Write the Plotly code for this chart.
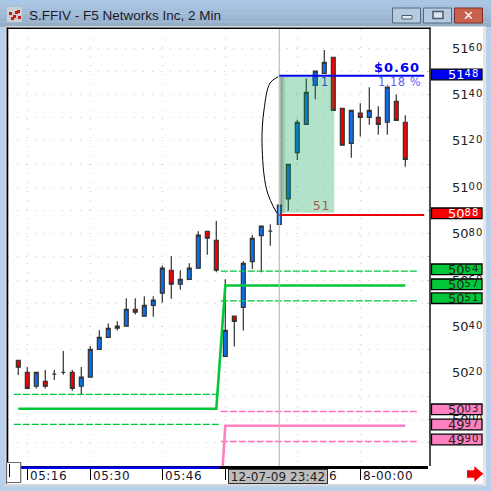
import plotly.graph_objects as go

# ---------- data ----------
bar_index = list(range(44))
opens = [5025.4,5020.2,5014.2,5016.3,5019.4,5020.2,5020.2,5014.2,5018.1,5030.1,5035.3,5039.2,5040.1,5047.4,5044.4,5049.1,
         5054.3,5064.2,5058.2,5060.3,5065.1,5081.0,5077.1,5027.1,5044.4,5048.2,5067.9,5079.1,5081.1,5084.0,5095.0,5114.9,
         5127.1,5143.9,5149.1,5156.0,5134.0,5118.9,5131.9,5130.1,5130.1,5128.0,5137.0,5128.0]
closes = [5022.4,5013.3,5020.2,5014.2,5019.4,5020.2,5013.3,5018.1,5030.1,5035.3,5039.2,5040.1,5047.4,5046.1,5049.1,5051.3,
          5065.1,5058.2,5060.3,5065.1,5079.3,5078.0,5064.2,5038.3,5042.2,5067.2,5078.0,5083.2,5081.1,5092.3,5109.9,5128.0,
          5140.9,5150.0,5153.8,5133.1,5118.1,5133.1,5130.1,5133.1,5127.1,5143.1,5128.8,5112.0]
highs = [5025.4,5022.5,5020.2,5021.2,5021.2,5029.4,5021.2,5022.5,5031.6,5038.3,5041.3,5042.2,5052.1,5052.1,5053.0,5053.0,
         5066.3,5070.2,5064.2,5067.2,5081.0,5081.0,5085.4,5060.3,5044.4,5068.1,5079.4,5083.2,5084.0,5092.3,5109.9,5129.0,
         5146.9,5150.0,5159.1,5156.0,5134.0,5133.1,5136.2,5143.1,5134.9,5143.1,5140.0,5131.0]
lows = [5019.1,5013.3,5013.2,5013.2,5016.9,5019.2,5012.3,5010.9,5018.1,5030.1,5035.3,5038.2,5040.1,5045.1,5044.4,5044.2,
        5050.2,5051.9,5055.8,5060.3,5065.1,5070.9,5063.3,5027.1,5031.3,5038.2,5064.7,5063.3,5074.8,5084.0,5089.9,5111.7,
        5127.1,5137.9,5149.1,5133.1,5118.1,5112.7,5121.8,5126.9,5122.6,5122.6,5128.8,5108.8]

y_ticks = [5000,5020,5040,5060,5080,5100,5120,5140,5160]
y_ticktext = ["5000","5020","5040","5060","5080","5100","5120","5140","5160"]
x_ticks = [1,8,16,23,31,38]
x_ticktext = ["05:16","05:30","05:46","","06:16","8-00:00"]

green_x = [0,22,23,43]
green_y = [5004.5,5004.5,5057.6,5057.6]
pink_x = [0,22,23,43]
pink_y = [4937,4937,4997.2,4997.2]
green_dash_left_x = [-0.5,22.3]
green_dash_right_x = [22.5,44.4]
green_dash_left = [5010.7,4997.8]
green_dash_right = [5063.8,5051.0]
pink_dash_x = [22.5,44.4]
pink_dash = [5003.3,4990.4]

range_start = 29
range_end_line = 45.1
range_end_shade = 35.1
range_low = 5088.0
range_high = 5148.0
arc_x = [28.86,27.97,27.3,27.08,27.6,28.71]
arc_y = [5147.6,5144.9,5133.3,5119.1,5098.8,5088.9]

level_text = ["5148","5088","5064","5057","5051","5003","4997","4990"]
level_rows = [74.5,213.3,269.3,284.3,298.2,409.3,424.5,439.5]
level_fill = ["#0000f0","#f80000","#00c838","#00c838","#00c838","#ff80c0","#ff80c0","#ff80c0"]
level_ink = ["white","white","#222222","#222222","#222222","#222222","#222222","#222222"]

title_text = "S.FFIV - F5 Networks Inc, 2 Min"
date_text = "12-07-09 23:42"
gain_text = "$0.60"
pct_text = "1.18 %"
bars_text = "51"

# ---------- page geometry ----------
W = H = 491
L, R, T, B = 8, 430, 29, 466
PX = 1/2.32
def X(px): return (px-L)/(R-L)
def Y(py): return (B-py)/(B-T)

FONT = "DejaVu Sans"
def price_label(s):
    return f'{s[:2]}<span style="font-size:10px;baseline-shift:2px;letter-spacing:1px">{s[2:]}</span>'
def spaced(s, px=1):
    return f'<span style="letter-spacing:{px}px">{s}</span>' if s else s

shapes, notes = [], []
def rect(x0,y0,x1,y1,fill,line=None,lw=1,layer="above",op=None):
    d = dict(type="rect",xref="paper",yref="paper",x0=X(x0),x1=X(x1),y0=Y(y0),y1=Y(y1),
             fillcolor=fill,layer=layer,line=dict(width=lw if line else 0,color=line or "rgba(0,0,0,0)"))
    if op is not None: d["opacity"]=op
    shapes.append(d)
def poly(pts,fill):
    s = "M"+" L".join(f"{X(a):.5f},{Y(b):.5f}" for a,b in pts)+" Z"
    shapes.append(dict(type="path",xref="paper",yref="paper",path=s,fillcolor=fill,layer="above",line=dict(width=0)))
def note(px,py,t,size,color,anchor="left",**kw):
    notes.append(dict(xref="paper",yref="paper",x=X(px),y=Y(py),text=t,showarrow=False,xanchor=anchor,yanchor="middle",
                      font=dict(family=kw.pop("family",FONT),size=size,color=color),**kw))

# window chrome
tops = ["#a9c6e4","#a6c2df","#a3bedb","#9fb9d5","#9ab3ce","#95adc6"]
for i,c in enumerate(tops):
    rect(0,i*4.5,491,(i+1)*4.5,c,layer="below")
rect(5,26,486,486,"#d8d8d8",layer="below")
rect(6,27,484,484,"#808080",layer="below")
rect(7,27,484,484,"white",layer="below")
rect(483,27,486,486,"#e6e6e6",layer="below")

# title bar
rect(7,7,22,22,"#cfcfcf")
for a,b in [(9,12),(13,15),(17,10),(11,17),(18,16),(15,11)]:
    rect(a,b,a+3,b+3,"#c81818")
note(27,15,title_text,13.5,"#1a1a2a",family="Liberation Sans")
rect(392.5,8,420.5,23,"#b4cbe0","#54687e")
rect(423.5,8,451.5,23,"#b4cbe0","#54687e")
rect(454.5,8,482.5,23,"#c8604c","#7a3028")
rect(402,15.5,412,19,"#e8eef4","#4a5a6a")
rect(433,11.5,443,18.5,"#dde6ee","#4a5a6a",lw=1.5)
note(468.5,15,"✕",13,"white",anchor="center")

# plot frame
rect(7,27.5,430.5,29,"black")
rect(7,27.5,8.3,466,"black")
rect(429.3,27.5,430.7,466,"black")
rect(8,466,428,469,"black")
rect(21,466.6,220,469,"#0000f0")
rect(6.5,462.5,20.7,482.5,"white","#6a6a6a",lw=1.2)
rect(9,464,10,477,"black")

# shade and its shadow
shapes.append(dict(type="rect",xref="x",yref="y",x0=range_start+0.1,x1=range_end_shade,y0=range_low+1,y1=range_high-0.5,
                   fillcolor="rgba(0,160,80,0.30)",layer="above",line=dict(width=0)))
for k,a in enumerate([0.42,0.32,0.22,0.13,0.06]):
    shapes.append(dict(type="rect",xref="x",yref="y",x0=range_start+0.12+k*0.12,x1=range_start+0.24+k*0.12,
                       y0=range_low+1,y1=range_high-0.5,fillcolor=f"rgba(60,60,60,{a})",layer="above",line=dict(width=0)))

# level boxes
for row,t,f,ink in zip(level_rows,level_text,level_fill,level_ink):
    rect(431.5,row-5.3,482,row+5.3,f,"black",lw=1.3)
    note(481,row+0.2,price_label(t),13,ink,anchor="right")

# arrow
poly([(467,470.3),(474.3,470.3),(474.3,466.3),(483.3,473.7),(474.3,481.7),(474.3,477.7),(467,477.7)],"#f00000")

# texts on the plot
note(422,67,spaced(gain_text,1),13,"#0000f0",anchor="right")
notes[-1]["font"]["weight"]=700
note(423,82,spaced(pct_text,0.5),11.5,"#6a5cff",anchor="right")
note(320.5,82,spaced(bars_text,2),12,"#1f5fb8",anchor="center")
note(321,206,spaced(bars_text),12,"#a85a48",anchor="center")

# x labels, from the tick lists
for v,t in zip(x_ticks,x_ticktext):
    if t:
        notes.append(dict(xref="x",yref="paper",x=v,y=Y(476),text=spaced(t,0.5),showarrow=False,xanchor="left",yanchor="middle",
                          xshift=1,font=dict(family=FONT,size=12,color="#15152a")))
note(228,476.5,spaced(date_text,0.1),12,"#222222",bgcolor="#bebebe",bordercolor="#333333",borderwidth=1,borderpad=0,width=98,height=13,align="center")

# ---------- figure ----------
fig = go.Figure()
def ln(x,y,color,width,dash="solid",**kw):
    fig.add_trace(go.Scatter(x=x,y=y,mode="lines",line=dict(color=color,width=width,dash=dash,**kw),hoverinfo="skip",showlegend=False))
DASH = "7px,2px"
for yv in green_dash_left:  ln(green_dash_left_x,[yv,yv],"#00c838",1.3,DASH)
for yv in green_dash_right: ln(green_dash_right_x,[yv,yv],"#00c838",1.3,DASH)
for yv in pink_dash:        ln(pink_dash_x,[yv,yv],"#ff70b8",1.5,DASH)
ln(green_x,green_y,"#00c838",2.6)
ln(pink_x,pink_y,"#ff80c0",2.6)
ln([range_start,range_start],[4979,5169],"#bcbcbc",1.2)
ln(arc_x,arc_y,"black",1,shape="spline")

fig.add_trace(go.Candlestick(x=bar_index,open=opens,high=highs,low=lows,close=closes,whiskerwidth=0,
    increasing=dict(line=dict(color="#333333",width=1.2),fillcolor="#0a6fee"),
    decreasing=dict(line=dict(color="#333333",width=1.2),fillcolor="#f40000"),
    hoverinfo="skip",showlegend=False))

ln([range_start,range_end_line],[range_high,range_high],"#0000f0",2)
ln([range_start,range_end_line],[range_low,range_low],"#f00000",2)

fig.update_layout(width=W,height=H,margin=dict(l=L,r=W-R,t=T,b=H-B),autosize=False,
    paper_bgcolor="#b9d1ea",plot_bgcolor="white",showlegend=False,boxgap=0.38,shapes=shapes,annotations=notes,
    font=dict(family=FONT),
    xaxis=dict(range=[(L-18.3)/9,(R-18.3)/9],rangeslider=dict(visible=False),tickmode="array",tickvals=x_ticks,
               showticklabels=False,ticks="outside",ticklen=13,tickwidth=1,tickcolor="black",
               showgrid=True,griddash="1px,8px",gridcolor="#cfcfcf",gridwidth=1,zeroline=False,showline=False),
    yaxis=dict(range=[5160-(B-48)*PX,5160+(48-T)*PX],side="right",tickmode="array",tickvals=y_ticks,
               ticktext=[price_label(t) for t in y_ticktext],
               ticks="inside",ticklen=3,tickcolor="#cccccc",ticklabelstandoff=21,
               tickfont=dict(family=FONT,size=13,color="#222222"),
               showgrid=True,griddash="1px,8px",gridcolor="#cfcfcf",gridwidth=1,zeroline=False,showline=False,
               minor=dict(tick0=5000,dtick=10,showgrid=True,griddash="1px,8px",gridcolor="#cfcfcf",ticks="inside",ticklen=3,tickcolor="#cccccc")))

fig.write_html("out.html",post_script="document.body.style.margin='0';document.body.style.overflow='hidden';",config=dict(displayModeBar=False))
